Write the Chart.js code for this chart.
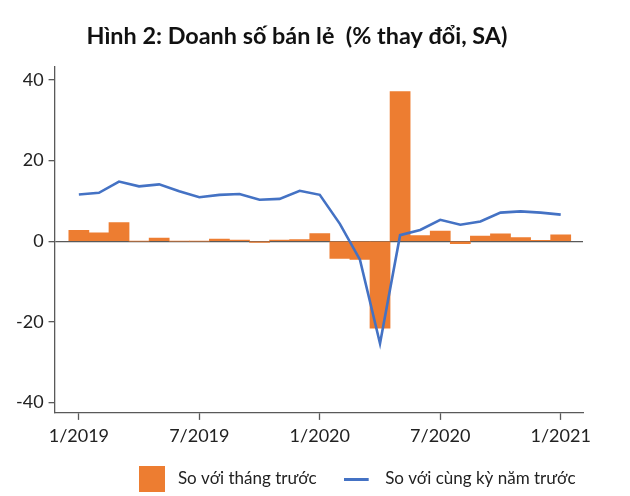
<!DOCTYPE html>
<html>
<head>
<meta charset="utf-8">
<script src="https://cdn.jsdelivr.net/npm/chart.js@4"></script>
<style>
  html, body { margin: 0; padding: 0; background: #fff; }
  #wrap { width: 630px; height: 496px; }
</style>
</head>
<body>
<div id="wrap"><canvas id="retailChart"></canvas></div>
<script>
// months Jan 2019 .. Jan 2021
const months = ["1/2019", "2/2019", "3/2019", "4/2019", "5/2019", "6/2019",
  "7/2019", "8/2019", "9/2019", "10/2019", "11/2019", "12/2019",
  "1/2020", "2/2020", "3/2020", "4/2020", "5/2020", "6/2020",
  "7/2020", "8/2020", "9/2020", "10/2020", "11/2020", "12/2020", "1/2021"];

// so voi thang truoc (bars)
const momValues = [2.7, 2.1, 4.6, 0.0, 0.8, 0.0, 0.0, 0.5, 0.3, -0.3, 0.3, 0.4,
  1.9, -4.3, -4.5, -21.6, 37.1, 1.4, 2.5, -0.6, 1.3, 1.8, 0.9, 0.2, 1.6];

// so voi cung ky nam truoc (line)
const yoyValues = [11.6, 12.0, 14.8, 13.6, 14.1, 12.4, 10.9, 11.5, 11.7, 10.3, 10.5, 12.5,
  11.5, 4.3, -4.6, -25.4, 1.5, 2.8, 5.3, 4.1, 4.9, 7.1, 7.4, 7.1, 6.6];

const xTicks = [0, 6, 12, 18, 24];
const yTicks = [-40, -20, 0, 20, 40];

const orange = "#ED7D31";
const blue = "#4472C4";
const axisColor = "#595959";
const fontFamily = "Lato, 'Noto Sans', sans-serif";

// legend icons
function makeIcon(w, h, draw) {
  const c = document.createElement("canvas");
  c.width = w;
  c.height = h;
  draw(c.getContext("2d"));
  return c;
}
const barIcon = makeIcon(26, 26, function (g) {
  g.fillStyle = orange;
  g.fillRect(0, 0, 26, 26);
});
const lineIcon = makeIcon(31, 3, function (g) {
  g.fillStyle = blue;
  g.fillRect(0, 0, 25, 3);
});
const legendIcons = [barIcon, lineIcon];

// nudge the legend so it ends flush with the x axis
const legendShift = {
  id: "legendShift",
  afterLayout(chart) {
    const lg = chart.legend;
    lg.left += 17.5;
    lg.right += 17.5;
    lg.top -= 6;
    lg.bottom -= 6;
  }
};

const ctx = document.getElementById("retailChart").getContext("2d");

new Chart(ctx, {
  type: "bar",
  data: {
    datasets: [
      {
        type: "bar",
        label: "So với tháng trước",
        data: momValues.map((v, i) => ({ x: i, y: v })),
        backgroundColor: orange,
        borderWidth: 0,
        barPercentage: 1,
        categoryPercentage: 1,
        order: 1
      },
      {
        type: "line",
        label: "So với cùng kỳ năm trước",
        data: yoyValues.map((v, i) => ({ x: i, y: v })),
        borderColor: blue,
        backgroundColor: blue,
        borderWidth: 2.6,
        pointRadius: 0,
        tension: 0,
        order: 0
      }
    ]
  },
  plugins: [legendShift],
  options: {
    responsive: true,
    maintainAspectRatio: false,
    animation: false,
    layout: { padding: { left: 11, right: 47, top: 0, bottom: -7.5 } },
    plugins: {
      tooltip: { enabled: false },
      title: {
        display: true,
        text: "Hình 2: Doanh số bán lẻ  (% thay đổi, SA)",
        color: "#111",
        font: { family: fontFamily, size: 23.4, weight: "bold" },
        padding: { top: 22, bottom: 17 }
      },
      legend: {
        position: "bottom",
        align: "end",
        labels: {
          usePointStyle: true,
          pointStyleWidth: 35,
          color: "#222",
          padding: 25,
          font: { family: fontFamily, size: 17 },
          generateLabels: function (chart) {
            const items = Chart.defaults.plugins.legend.labels.generateLabels(chart);
            items.sort((a, b) => a.datasetIndex - b.datasetIndex);
            return items.map((it) => Object.assign(it, { pointStyle: legendIcons[it.datasetIndex] }));
          }
        }
      }
    },
    scales: {
      x: {
        type: "linear",
        min: -1.21,
        max: 25.11,
        offset: false,
        afterBuildTicks: function (s) { s.ticks = xTicks.map((v) => ({ value: v })); },
        ticks: {
          color: "#222",
          padding: 5,
          font: { family: fontFamily, size: 18 },
          callback: (v) => months[v]
        },
        grid: { offset: false, drawOnChartArea: false, drawTicks: true, tickLength: 7, tickColor: axisColor, tickWidth: 1.3 },
        border: { display: true, color: axisColor, width: 1.3 }
      },
      y: {
        min: -42.6,
        max: 43.2,
        afterBuildTicks: function (s) { s.ticks = yTicks.map((v) => ({ value: v })); },
        ticks: {
          color: "#222",
          padding: 5,
          font: { family: fontFamily, size: 18 }
        },
        grid: {
          drawOnChartArea: true,
          color: (c) => (c.tick && c.tick.value === 0 ? axisColor : "rgba(0,0,0,0)"),
          lineWidth: 1.3,
          tickLength: 6,
          tickColor: axisColor,
          tickWidth: 1.3
        },
        border: { display: true, color: axisColor, width: 1.3 }
      }
    }
  }
});
</script>
</body>
</html>
